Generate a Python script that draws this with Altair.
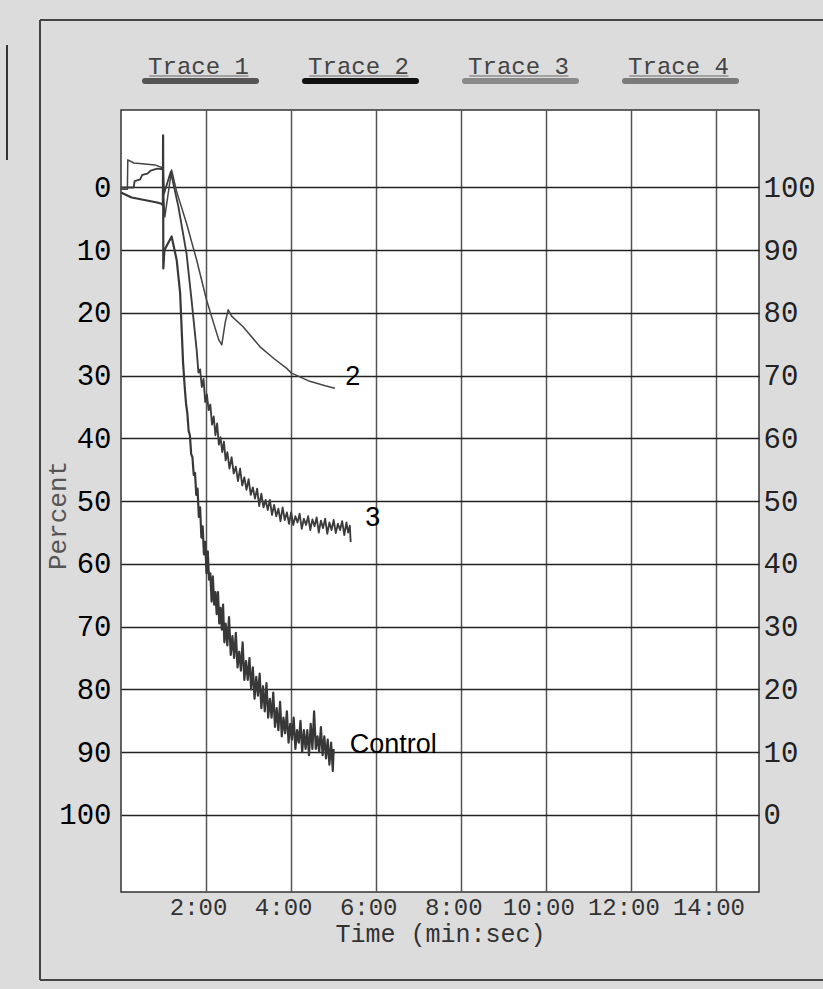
import altair as alt
import pandas as pd

# ---- aggregation traces: time (minutes) and light transmission (percent, 0 at top)
trace2_t = [0.0, 0.15, 0.16, 0.30, 0.50, 0.80, 0.99, 1.00, 1.03, 1.19, 1.31, 1.54, 1.78,
            2.01, 2.19, 2.30, 2.37, 2.45, 2.52, 2.60, 2.87, 3.27, 3.60, 3.89, 4.01, 4.44,
            4.80, 5.03]
trace2_p = [0.3, 0.3, -4.4, -3.9, -3.8, -3.6, -3.1, 1.5, 4.7, -2.8, 0.7, 5.7, 11.6,
            17.9, 21.9, 24.3, 25.1, 21.5, 19.5, 20.5, 22.2, 25.4, 27.3, 28.8, 29.6, 30.9,
            31.6, 32.0]

trace3_t = [0.0, 0.30, 0.32, 0.45, 0.50, 0.62, 0.70, 0.85, 0.99, 1.01, 1.17, 1.35, 1.54,
            1.66, 1.78, 1.82, 1.86, 1.90, 1.94, 1.98, 2.02, 2.06, 2.10, 2.14, 2.18, 2.22,
            2.26, 2.30, 2.34, 2.38, 2.42, 2.46, 2.50, 2.55, 2.60, 2.65, 2.70, 2.75, 2.80,
            2.85, 2.90, 2.95, 3.00, 3.05, 3.10, 3.15, 3.20, 3.25, 3.30, 3.35, 3.40, 3.45,
            3.50, 3.55, 3.60, 3.65, 3.70, 3.75, 3.80, 3.85, 3.90, 3.95, 4.00, 4.05, 4.10,
            4.15, 4.20, 4.25, 4.30, 4.35, 4.40, 4.45, 4.50, 4.55, 4.60, 4.65, 4.70, 4.75,
            4.80, 4.85, 4.90, 4.95, 5.00, 5.05, 5.10, 5.15, 5.20, 5.25, 5.30, 5.34, 5.38,
            5.40]
trace3_p = [0.0, 0.0, -1.0, -1.3, -2.0, -2.2, -2.7, -3.0, -2.9, 1.0, -2.5, 3.1, 10.5,
            18.0, 26.0, 29.5, 29.0, 31.8, 30.5, 34.2, 33.0, 35.5, 34.6, 37.8, 36.5, 39.5,
            37.6, 41.0, 39.8, 42.2, 40.5, 43.5, 42.2, 44.8, 43.0, 45.6, 44.5, 46.8, 44.8,
            47.5, 46.2, 48.2, 46.5, 49.0, 47.8, 49.6, 48.0, 50.8, 48.8, 51.0, 49.8, 51.4,
            49.8, 52.2, 50.6, 52.4, 51.2, 53.2, 51.0, 53.0, 51.8, 53.6, 51.8, 53.8, 52.4,
            53.4, 52.0, 54.4, 52.8, 53.8, 52.4, 54.6, 52.9, 54.0, 52.6, 55.0, 53.1, 54.3,
            52.8, 55.2, 53.4, 54.6, 53.0, 55.1, 53.6, 54.6, 53.2, 55.4, 53.4, 55.0, 53.9,
            56.5]

control_t = [0.0, 0.25, 0.55, 0.85, 0.95, 0.985, 0.99, 0.995, 1.02, 1.19, 1.31, 1.39,
             1.46, 1.50, 1.53, 1.56, 1.59, 1.62, 1.65, 1.68, 1.71, 1.74, 1.77, 1.80, 1.83,
             1.86, 1.89, 1.92, 1.95, 1.98, 2.01, 2.04, 2.07, 2.10, 2.13, 2.16, 2.19, 2.22,
             2.25, 2.28, 2.31, 2.34, 2.37, 2.40, 2.43, 2.46, 2.50, 2.54, 2.58, 2.62, 2.66,
             2.70, 2.74, 2.78, 2.82, 2.86, 2.90, 2.94, 2.98, 3.02, 3.06, 3.10, 3.14, 3.18,
             3.22, 3.26, 3.30, 3.34, 3.38, 3.42, 3.46, 3.50, 3.54, 3.58, 3.62, 3.66, 3.70,
             3.74, 3.78, 3.82, 3.86, 3.90, 3.94, 3.98, 4.02, 4.06, 4.10, 4.14, 4.18, 4.22,
             4.26, 4.30, 4.34, 4.38, 4.42, 4.46, 4.50, 4.54, 4.58, 4.62, 4.66, 4.70, 4.74,
             4.78, 4.82, 4.86, 4.90, 4.94, 4.98, 5.00]
control_p = [0.8, 1.6, 2.0, 2.4, 2.6, 2.8, -8.3, 12.9, 10.0, 7.8, 11.6, 16.8,
             28.0, 32.0, 34.5, 36.0, 38.8, 39.5, 42.5, 43.0, 45.8, 45.5, 49.0, 48.0, 52.5,
             51.0, 55.8, 54.0, 58.5, 56.5, 61.5, 58.0, 62.5, 61.5, 66.0, 62.0, 66.5, 64.5,
             68.0, 64.5, 69.5, 67.0, 70.5, 66.5, 72.5, 69.5, 73.0, 68.5, 74.5, 71.5, 75.0,
             71.0, 76.5, 74.0, 77.0, 72.5, 78.5, 75.5, 78.5, 75.0, 80.0, 76.5, 81.5, 78.0,
             81.0, 77.5, 83.0, 79.5, 83.5, 79.0, 84.5, 81.5, 84.5, 80.5, 86.0, 83.0, 86.5,
             82.0, 87.5, 84.5, 87.0, 83.5, 88.5, 85.5, 88.0, 84.5, 89.5, 86.5, 88.5, 85.0,
             90.0, 86.5, 89.5, 86.5, 90.5, 85.5, 89.5, 83.5, 89.5, 87.5, 90.0, 86.0, 90.5,
             87.5, 91.0, 88.0, 92.0, 88.5, 93.0, 89.5]

series_names = ["2", "3", "Control"]
series_colors = ["#444444", "#3c3c3c", "#383838"]
series_widths = [1.5, 2.2, 2.2]

# curve annotations (time, percent, text)
label_t = [5.45, 5.92, 5.38]
label_p = [30.2, 52.7, 88.8]
label_text = ["2", "3", "Control"]
label_align = ["center", "center", "left"]

# legend entries across the top
legend_names = ["Trace 1", "Trace 2", "Trace 3", "Trace 4"]
legend_colors = ["#555555", "#111111", "#8a8a8a", "#7a7a7a"]

x_ticks = [2, 4, 6, 8, 10, 12, 14]
y_ticks = [0, 10, 20, 30, 40, 50, 60, 70, 80, 90, 100]

MONO = "Liberation Mono"
SANS = "Liberation Sans"

rows = []
for name, ts, ps in [("2", trace2_t, trace2_p), ("3", trace3_t, trace3_p),
                     ("Control", control_t, control_p)]:
    for i, (t, p) in enumerate(zip(ts, ps)):
        rows.append({"series": name, "t": t, "p": p, "i": i})
traces = pd.DataFrame(rows)

labels = pd.DataFrame({"t": label_t, "p": label_p, "text": label_text, "align": label_align})
legend = pd.DataFrame({"name": legend_names, "color": legend_colors,
                       "slot": list(range(len(legend_names)))})
one = pd.DataFrame({"k": [0]})

x_scale = alt.Scale(domain=[0, 15], nice=False, zero=False)
y_scale = alt.Scale(domain=[-12.35, 112.3], reverse=True, nice=False, zero=False)
slot_scale = alt.Scale(domain=[0, 3], range=[79.5, 559.5], nice=False, zero=False)

lines = alt.Chart(traces).mark_line(clip=True, strokeJoin="round").encode(
    x=alt.X("t:Q", scale=x_scale, axis=alt.Axis(
        values=x_ticks, labelExpr="datum.value + ':00'", grid=True, gridColor="#555555",
        gridWidth=1.5, ticks=False, domain=False, labelFont=MONO, labelFontSize=24,
        labelColor="#333333", labelPadding=3, labelOffset=-8, labelOverlap=False,
        labelFlush=False,
        title="Time (min:sec)", titleFont=MONO, titleFontSize=25, titleFontWeight="normal",
        titleColor="#333333", titleY=41, titleBaseline="middle")),
    y=alt.Y("p:Q", scale=y_scale, axis=alt.Axis(
        values=y_ticks, grid=True, gridColor="#222222", gridWidth=1.5, ticks=False,
        domain=False, labelFont=MONO, labelFontSize=29, labelColor="#000000",
        labelPadding=10, labelOverlap=False, labelFlush=False,
        title="Percent", titleFont=MONO, titleFontSize=26, titleFontWeight="normal",
        titleColor="#555555", titleAngle=270, titleX=-64, titleY=405,
        titleAlign="center", titleBaseline="middle")),
    detail="series:N",
    order="i:Q",
    color=alt.Color("series:N", scale=alt.Scale(domain=series_names, range=series_colors),
                    legend=None),
    strokeWidth=alt.StrokeWidth("series:N",
                                scale=alt.Scale(domain=series_names, range=series_widths),
                                legend=None),
)

# right-hand scale reads 100 minus the left-hand percent
right_axis = alt.Chart(traces).mark_line(opacity=0).encode(
    x=alt.X("t:Q", scale=x_scale, axis=None),
    y=alt.Y("p:Q", scale=y_scale, axis=alt.Axis(
        orient="right", values=y_ticks, labelExpr="'' + (100 - datum.value)", grid=False,
        ticks=False, domain=False, labelFont=MONO, labelFontSize=29, labelColor="#222222",
        labelPadding=4, labelOverlap=False, labelFlush=False, title=None)),
    detail="series:N",
)

notes_c = alt.Chart(labels).transform_filter("datum.align == 'center'").mark_text(
    font=SANS, fontSize=27, color="#000000", baseline="middle", align="center").encode(
    x=alt.X("t:Q", scale=x_scale, axis=None),
    y=alt.Y("p:Q", scale=y_scale, axis=None),
    text="text:N",
)
notes_l = alt.Chart(labels).transform_filter("datum.align == 'left'").mark_text(
    font=SANS, fontSize=27, color="#000000", baseline="middle", align="left").encode(
    x=alt.X("t:Q", scale=x_scale, axis=None),
    y=alt.Y("p:Q", scale=y_scale, axis=None),
    text="text:N",
)

leg_base = alt.Chart(legend).transform_calculate(lo="datum.slot - 0.347",
                                                  hi="datum.slot + 0.347",
                                                  ulo="datum.slot - 0.32",
                                                  uhi="datum.slot + 0.30")
leg_bar = leg_base.mark_rule(strokeWidth=6, strokeCap="round").encode(
    x=alt.X("lo:Q", scale=slot_scale, axis=None),
    x2="hi:Q",
    y=alt.value(-29),
    color=alt.Color("color:N", scale=None, legend=None),
)
leg_under = leg_base.mark_rule(strokeWidth=1, color="#666666").encode(
    x=alt.X("ulo:Q", scale=slot_scale, axis=None),
    x2="uhi:Q",
    y=alt.value(-34),
)
leg_text = leg_base.mark_text(font=MONO, fontSize=24, color="#444444",
                              baseline="alphabetic", align="center", dx=-2).encode(
    x=alt.X("slot:Q", scale=slot_scale, axis=None),
    y=alt.value(-36),
    text="name:N",
)

# panel frame around the chart
frame_top = alt.Chart(one).mark_rule(color="#444444", strokeWidth=2).encode(
    x=alt.value(-81), x2=alt.value(710), y=alt.value(-90))
frame_left = alt.Chart(one).mark_rule(color="#444444", strokeWidth=2).encode(
    x=alt.value(-81), y=alt.value(-90), y2=alt.value(870))
frame_bottom = alt.Chart(one).mark_rule(color="#444444", strokeWidth=2).encode(
    x=alt.value(-81), x2=alt.value(710), y=alt.value(870))
side_bar = alt.Chart(one).mark_rule(color="#333333", strokeWidth=2).encode(
    x=alt.value(-114), y=alt.value(-65), y2=alt.value(50))

chart = alt.layer(
    lines, right_axis, notes_c, notes_l, leg_bar, leg_under, leg_text,
    frame_top, frame_left, frame_bottom, side_bar,
).resolve_scale(
    x="independent", y="independent"
).properties(
    width=638, height=782,
    autosize=alt.AutoSizeParams(type="none"),
    padding={"left": 121, "top": 110, "right": 64, "bottom": 97},
    background="#dcdcdc",
).configure_view(fill="white", stroke="#333333", strokeWidth=1.5)

chart.save("out.html", embed_options={"renderer": "svg", "actions": False})
